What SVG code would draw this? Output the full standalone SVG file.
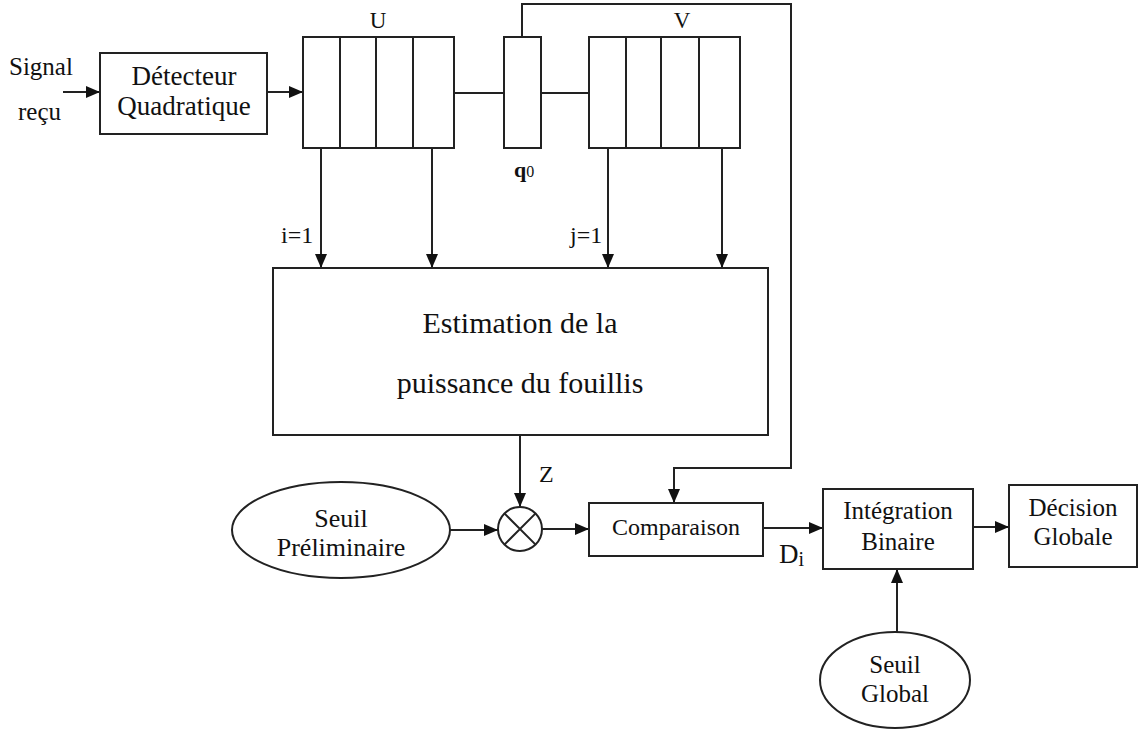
<svg xmlns="http://www.w3.org/2000/svg" width="1143" height="733" viewBox="0 0 1143 733">
  <style>
    .box { fill: #fff; stroke: #222; stroke-width: 2; }
    .ln { fill: none; stroke: #222; stroke-width: 2; }
    .arr { fill: none; stroke: #222; stroke-width: 2; marker-end: url(#head); }
    text { font-family: "Liberation Serif", "Times New Roman", serif; fill: #111; }
    .t24 { font-size: 24px; }
    .t25 { font-size: 25px; }
    .t26 { font-size: 26px; }
    .c { text-anchor: middle; }
  </style>
  <defs>
    <marker id="head" markerUnits="userSpaceOnUse" markerWidth="14" markerHeight="12" refX="14" refY="6" orient="auto">
      <path d="M0,0 L14,6 L0,12 z" fill="#111"/>
    </marker>
  </defs>

  <rect width="1143" height="733" fill="#fff"/>

  <!-- connectors -->
  <g id="connectors">
    <line class="arr" x1="63" y1="92" x2="100" y2="92"/>
    <line class="arr" x1="267" y1="92" x2="303" y2="92"/>
    <line class="ln" x1="454" y1="93" x2="504" y2="93"/>
    <line class="ln" x1="541" y1="93" x2="589" y2="93"/>
    <path class="arr" d="M522,37 V4 H791 V468 H674 V503"/>
    <line class="arr" x1="321" y1="148" x2="321" y2="268"/>
    <line class="arr" x1="432" y1="148" x2="432" y2="268"/>
    <line class="arr" x1="608" y1="148" x2="608" y2="268"/>
    <line class="arr" x1="722" y1="148" x2="722" y2="268"/>
    <line class="arr" x1="520" y1="435" x2="520" y2="507"/>
    <line class="arr" x1="450" y1="530" x2="498" y2="530"/>
    <line class="arr" x1="542" y1="529" x2="589" y2="529"/>
    <line class="arr" x1="763" y1="528" x2="823" y2="528"/>
    <line class="arr" x1="973" y1="527" x2="1009" y2="527"/>
    <line class="arr" x1="897" y1="632" x2="897" y2="569"/>
  </g>

  <!-- input label -->
  <g id="input">
    <text x="9" y="75" font-size="25">Signal</text>
    <text x="18" y="120" font-size="25">reçu</text>
  </g>

  <g id="detecteur">
    <rect class="box" x="100" y="53" width="167" height="81"/>
    <text class="c" x="184" y="85" font-size="27">Détecteur</text>
    <text class="c" x="184" y="115" font-size="27">Quadratique</text>
  </g>

  <g id="registre-u">
    <rect class="box" x="303" y="37" width="151" height="111"/>
    <path class="ln" d="M340,37 V148 M376,37 V148 M413,37 V148"/>
    <text class="c" x="378" y="28" font-size="23">U</text>
  </g>

  <g id="cellule-q0">
    <rect class="box" x="504" y="37" width="37" height="111"/>
    <text x="514" y="177" font-size="22" font-weight="bold">q<tspan font-size="16" font-weight="normal">0</tspan></text>
  </g>

  <g id="registre-v">
    <rect class="box" x="589" y="37" width="151" height="111"/>
    <path class="ln" d="M626,37 V148 M661,37 V148 M699,37 V148"/>
    <text class="c" x="682" y="28" font-size="23">V</text>
  </g>

  <g id="indices">
    <text class="t24" x="281" y="243">i=1</text>
    <text class="t24" x="570" y="243">j=1</text>
  </g>

  <g id="estimation">
    <rect class="box" x="273" y="268" width="495" height="167"/>
    <text class="c" x="520" y="333" font-size="30">Estimation de la</text>
    <text class="c" x="520" y="393" font-size="30">puissance du fouillis</text>
  </g>

  <g id="label-z">
    <text x="539" y="482" font-size="24">Z</text>
  </g>

  <g id="seuil-preliminaire">
    <ellipse class="box" cx="341" cy="530" rx="109" ry="48"/>
    <text class="t26 c" x="341" y="527">Seuil</text>
    <text class="t26 c" x="341" y="556">Préliminaire</text>
  </g>

  <g id="multiplieur">
    <circle class="box" cx="520" cy="529" r="22"/>
    <path class="ln" d="M504.4,513.4 L535.6,544.6 M535.6,513.4 L504.4,544.6" stroke-width="1.5"/>
  </g>

  <g id="comparaison">
    <rect class="box" x="589" y="503" width="174" height="53"/>
    <text class="t24 c" x="676" y="535">Comparaison</text>
  </g>

  <g id="label-di">
    <text x="779" y="563" font-size="27">D<tspan font-size="20" dy="3">i</tspan></text>
  </g>

  <g id="integration">
    <rect class="box" x="823" y="489" width="150" height="80"/>
    <text class="t25 c" x="898" y="519">Intégration</text>
    <text class="t25 c" x="898" y="550">Binaire</text>
  </g>

  <g id="decision">
    <rect class="box" x="1009" y="485" width="128" height="82"/>
    <text class="t25 c" x="1073" y="516">Décision</text>
    <text class="t25 c" x="1073" y="545">Globale</text>
  </g>

  <g id="seuil-global">
    <ellipse class="box" cx="895" cy="680" rx="75" ry="48"/>
    <text class="t25 c" x="895" y="673">Seuil</text>
    <text class="t25 c" x="895" y="702">Global</text>
  </g>
</svg>
